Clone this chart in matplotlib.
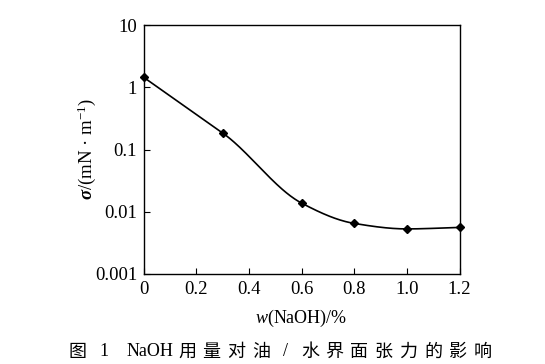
import numpy as np
import matplotlib
matplotlib.use('Agg')
import matplotlib.pyplot as plt

plt.rcParams['font.family'] = ['Liberation Serif', 'Noto Sans CJK SC', 'DejaVu Sans']
plt.rcParams['mathtext.fontset'] = 'custom'
plt.rcParams['mathtext.rm'] = 'Liberation Serif'
plt.rcParams['mathtext.it'] = 'Liberation Serif:italic'
plt.rcParams['mathtext.bf'] = 'Liberation Serif:bold'
plt.rcParams['mathtext.bfit'] = 'Liberation Serif:bold:italic'

naoh = [0.0, 0.3, 0.6, 0.8, 1.0, 1.2]          # w(NaOH) / %
sigma = [1.45, 0.185, 0.0138, 0.0065, 0.0053, 0.0056]  # mN/m
xticks = [0, 0.2, 0.4, 0.6, 0.8, 1.0, 1.2]
xticklabels = ['0', '0.2', '0.4', '0.6', '0.8', '1.0', '1.2']
yticks = [0.001, 0.01, 0.1, 1, 10]
yticklabels = ['0.001', '0.01', '0.1', '1', '10']


def smooth(x, y, xs):
    # monotone cubic Hermite through the points; first segment kept straight
    x = np.asarray(x, float)
    y = np.asarray(y, float)
    h = np.diff(x)
    d = np.diff(y) / h
    m = np.zeros_like(y)
    for k in range(1, len(y) - 1):
        if d[k - 1] * d[k] > 0:
            w1 = 2 * h[k] + h[k - 1]
            w2 = h[k] + 2 * h[k - 1]
            m[k] = (w1 + w2) / (w1 / d[k - 1] + w2 / d[k])
    m[0] = d[0]
    m[1] = d[0]
    m[-1] = d[-1]
    out = np.empty_like(xs)
    for i, xv in enumerate(xs):
        k = min(np.searchsorted(x, xv, side='right') - 1, len(x) - 2)
        t = (xv - x[k]) / h[k]
        h00 = 2 * t**3 - 3 * t**2 + 1
        h10 = t**3 - 2 * t**2 + t
        h01 = -2 * t**3 + 3 * t**2
        h11 = t**3 - t**2
        out[i] = h00 * y[k] + h10 * h[k] * m[k] + h01 * y[k + 1] + h11 * h[k] * m[k + 1]
    return out


W, H = 545, 364
fig = plt.figure(figsize=(W / 100, H / 100), dpi=100)
ax = fig.add_axes([143.5 / W, 1 - 274 / H, 316 / W, 249 / H])

xs = np.linspace(naoh[0], naoh[-1], 300)
ys = 10 ** smooth(naoh, np.log10(sigma), xs)
ax.plot(xs, ys, color='black', lw=1.2, clip_on=False)
ax.plot(naoh, sigma, linestyle='none', marker='D', ms=4.5, color='black', clip_on=False)

ax.set_yscale('log')
ax.set_xlim(0, 1.2)
ax.set_ylim(0.001, 10)
ax.set_xticks(xticks)
ax.set_xticklabels(xticklabels)
ax.set_yticks(yticks)
ax.set_yticklabels(yticklabels)
ax.minorticks_off()
ax.tick_params(direction='in', length=4, width=0.8, labelsize=13.5,
               top=False, right=False)
ax.tick_params(axis='x', pad=5)
ax.tick_params(axis='y', pad=4.5)
for s in ax.spines.values():
    s.set_linewidth(1.0)

ax.set_xlabel(r'$\mathit{w}$(NaOH)/%', fontsize=13, labelpad=7)
ax.set_ylabel(r'$\boldsymbol{\sigma}$/(mN · m$^{-1}$)', fontsize=13.5)
ax.yaxis.set_label_coords(-0.145, 0.5)

# caption, laid out piece by piece to get the wide letter spacing
cap_y = 1 - 352 / H
fig.text(77 / W, cap_y, '图', ha='center', va='center', fontsize=13)
fig.text(104 / W, cap_y, '1', ha='center', va='center', fontsize=13)
fig.text(127 / W, cap_y, 'NaOH', ha='left', va='center', fontsize=13)
chars = '用量对油/水界面张力的影响'
for i, ch in enumerate(chars):
    fig.text((187 + 24.6 * i) / W, cap_y, ch, ha='center', va='center', fontsize=13)

fig.savefig('out.png', dpi=100)
